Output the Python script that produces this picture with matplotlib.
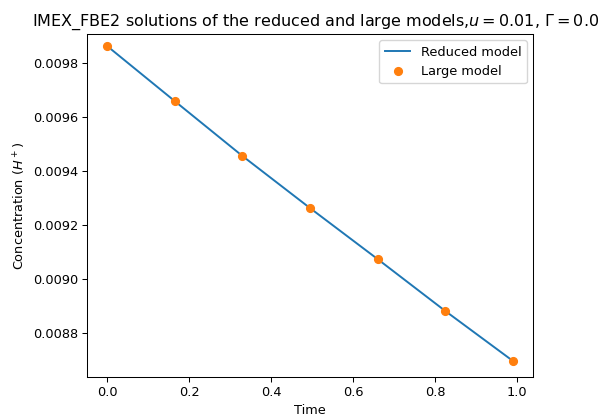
import matplotlib
matplotlib.use("Agg")
import matplotlib.pyplot as plt

# Time grid and H+ concentration from both models
time = [0.0, 0.165, 0.33, 0.495, 0.66, 0.825, 0.99]
reduced_model = [0.009864, 0.009660, 0.009457, 0.009264, 0.009075, 0.008883, 0.008698]
large_model = [0.009864, 0.009660, 0.009457, 0.009264, 0.009075, 0.008883, 0.008698]

s = 0.93
plt.rcParams.update({
    "font.size": 10 * s,
    "axes.titlesize": 11.5,
    "legend.fontsize": 10 * s,
    "lines.linewidth": 1.5 * s,
    "lines.markersize": 6 * s,
    "axes.linewidth": 0.8 * s,
    "xtick.major.size": 3.5 * s,
    "ytick.major.size": 3.5 * s,
    "xtick.major.pad": 3.5 * s,
    "ytick.major.pad": 3.5 * s,
    "xtick.major.width": 0.8 * s,
    "ytick.major.width": 0.8 * s,
    "axes.titlepad": 6 * s,
    "axes.labelpad": 4 * s,
})

fig = plt.figure(figsize=(6.03, 4.19), dpi=100)
ax = fig.add_axes([87 / 603, 42 / 419, 446 / 603, 343 / 419])

ax.plot(time, reduced_model, color="C0", label="Reduced model")
ax.plot(time, large_model, "o", color="C1", label="Large model")

ax.set_ylim(0.008638, 0.009909)
ax.set_title(r"IMEX_FBE2 solutions of the reduced and large models,$u = 0.01$, $\Gamma = 0.0$",
             x=0.513)
ax.set_xlabel("Time")
ax.set_ylabel(r"Concentration $(H^+)$")
ax.legend(loc="upper right")

fig.savefig("out.png", dpi=100)
